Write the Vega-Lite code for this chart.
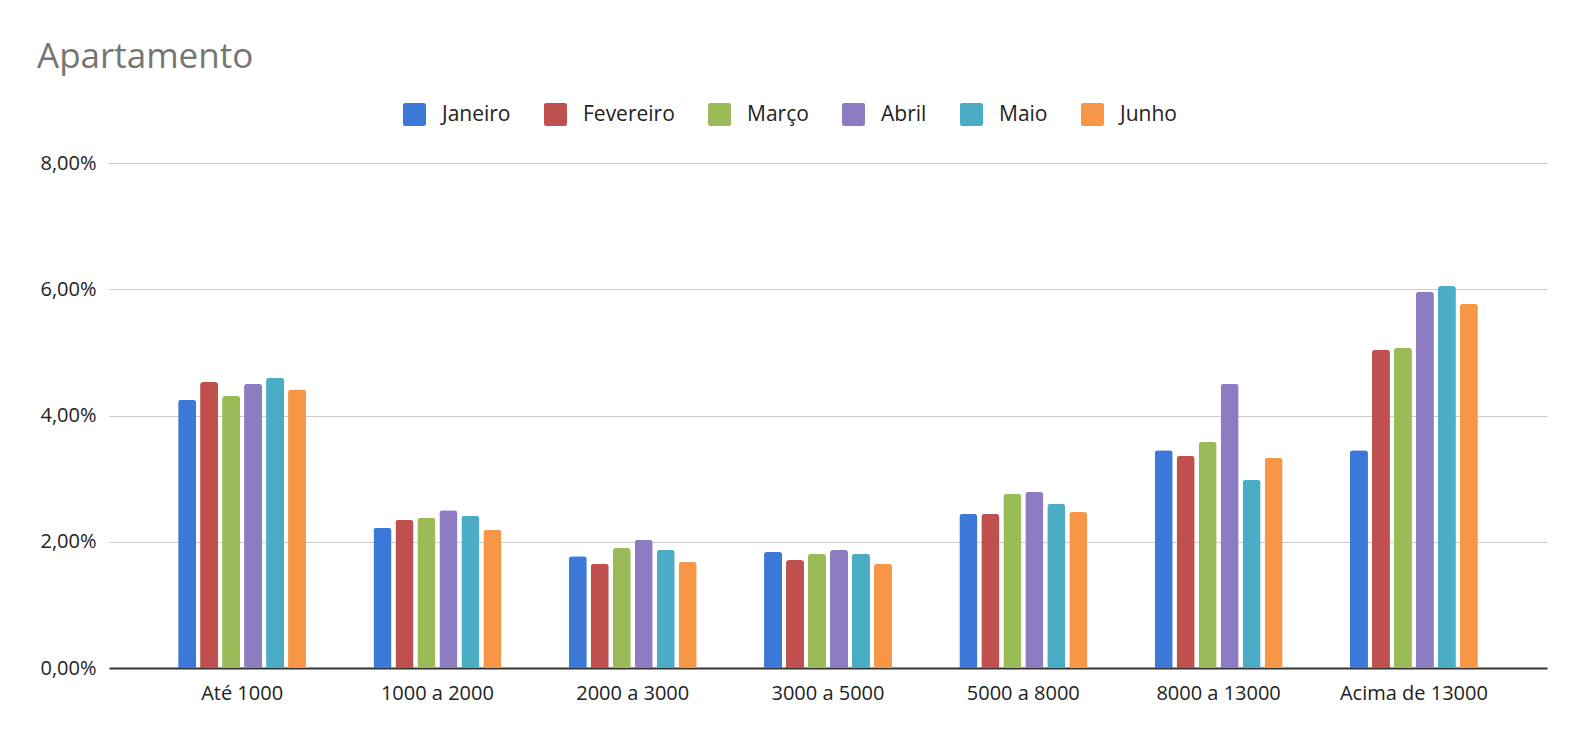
{
  "$schema": "https://vega.github.io/schema/vega-lite/v6.json",
  "width": 1438,
  "height": 505,
  "autosize": {"type": "none"},
  "padding": {"left": 109, "top": 163, "right": 37, "bottom": 74},
  "background": "white",
  "title": {
    "text": "Apartamento",
    "anchor": "start",
    "frame": "group",
    "orient": "top",
    "dx": -72,
    "offset": 28,
    "font": "Open Sans",
    "fontSize": 35,
    "fontWeight": "normal",
    "color": "#757575"
  },
  "config": {
    "view": {"stroke": null},
    "font": "Open Sans"
  },
  "data": {
    "values": [
      {"faixa": "Até 1000", "mes": "Janeiro", "valor": 0.0425},
      {"faixa": "Até 1000", "mes": "Fevereiro", "valor": 0.0453},
      {"faixa": "Até 1000", "mes": "Março", "valor": 0.0431},
      {"faixa": "Até 1000", "mes": "Abril", "valor": 0.0450},
      {"faixa": "Até 1000", "mes": "Maio", "valor": 0.0460},
      {"faixa": "Até 1000", "mes": "Junho", "valor": 0.0441},
      {"faixa": "1000 a 2000", "mes": "Janeiro", "valor": 0.0222},
      {"faixa": "1000 a 2000", "mes": "Fevereiro", "valor": 0.0235},
      {"faixa": "1000 a 2000", "mes": "Março", "valor": 0.0238},
      {"faixa": "1000 a 2000", "mes": "Abril", "valor": 0.0250},
      {"faixa": "1000 a 2000", "mes": "Maio", "valor": 0.0241},
      {"faixa": "1000 a 2000", "mes": "Junho", "valor": 0.0219},
      {"faixa": "2000 a 3000", "mes": "Janeiro", "valor": 0.0177},
      {"faixa": "2000 a 3000", "mes": "Fevereiro", "valor": 0.0165},
      {"faixa": "2000 a 3000", "mes": "Março", "valor": 0.0190},
      {"faixa": "2000 a 3000", "mes": "Abril", "valor": 0.0203},
      {"faixa": "2000 a 3000", "mes": "Maio", "valor": 0.0187},
      {"faixa": "2000 a 3000", "mes": "Junho", "valor": 0.0168},
      {"faixa": "3000 a 5000", "mes": "Janeiro", "valor": 0.0184},
      {"faixa": "3000 a 5000", "mes": "Fevereiro", "valor": 0.0171},
      {"faixa": "3000 a 5000", "mes": "Março", "valor": 0.0181},
      {"faixa": "3000 a 5000", "mes": "Abril", "valor": 0.0187},
      {"faixa": "3000 a 5000", "mes": "Maio", "valor": 0.0181},
      {"faixa": "3000 a 5000", "mes": "Junho", "valor": 0.0165},
      {"faixa": "5000 a 8000", "mes": "Janeiro", "valor": 0.0244},
      {"faixa": "5000 a 8000", "mes": "Fevereiro", "valor": 0.0244},
      {"faixa": "5000 a 8000", "mes": "Março", "valor": 0.0276},
      {"faixa": "5000 a 8000", "mes": "Abril", "valor": 0.0279},
      {"faixa": "5000 a 8000", "mes": "Maio", "valor": 0.0260},
      {"faixa": "5000 a 8000", "mes": "Junho", "valor": 0.0247},
      {"faixa": "8000 a 13000", "mes": "Janeiro", "valor": 0.0345},
      {"faixa": "8000 a 13000", "mes": "Fevereiro", "valor": 0.0336},
      {"faixa": "8000 a 13000", "mes": "Março", "valor": 0.0358},
      {"faixa": "8000 a 13000", "mes": "Abril", "valor": 0.0450},
      {"faixa": "8000 a 13000", "mes": "Maio", "valor": 0.0298},
      {"faixa": "8000 a 13000", "mes": "Junho", "valor": 0.0333},
      {"faixa": "Acima de 13000", "mes": "Janeiro", "valor": 0.0345},
      {"faixa": "Acima de 13000", "mes": "Fevereiro", "valor": 0.0504},
      {"faixa": "Acima de 13000", "mes": "Março", "valor": 0.0507},
      {"faixa": "Acima de 13000", "mes": "Abril", "valor": 0.0596},
      {"faixa": "Acima de 13000", "mes": "Maio", "valor": 0.0605},
      {"faixa": "Acima de 13000", "mes": "Junho", "valor": 0.0577}
    ]
  },
  "mark": {"type": "bar", "cornerRadiusTopLeft": 3, "cornerRadiusTopRight": 3},
  "encoding": {
    "x": {
      "field": "faixa",
      "type": "nominal",
      "sort": ["Até 1000", "1000 a 2000", "2000 a 3000", "3000 a 5000", "5000 a 8000", "8000 a 13000", "Acima de 13000"],
      "scale": {"paddingInner": 0.345, "paddingOuter": 0.354},
      "axis": {
        "title": null,
        "labelAngle": 0,
        "labelFont": "Open Sans",
        "labelFontSize": 20,
        "labelColor": "#222222",
        "labelPadding": 15,
        "ticks": false,
        "domainColor": "#333333",
        "domainWidth": 2,
        "grid": false
      }
    },
    "xOffset": {
      "field": "mes",
      "type": "nominal",
      "sort": ["Janeiro", "Fevereiro", "Março", "Abril", "Maio", "Junho"],
      "scale": {"paddingInner": 0.18, "paddingOuter": 0}
    },
    "y": {
      "field": "valor",
      "type": "quantitative",
      "scale": {"domain": [0, 0.08], "nice": false},
      "axis": {
        "title": null,
        "values": [0, 0.02, 0.04, 0.06, 0.08],
        "labelExpr": "replace(format(datum.value, '.2%'), '.', ',')",
        "labelFont": "Open Sans",
        "labelFontSize": 20,
        "labelColor": "#222222",
        "labelPadding": 13,
        "ticks": false,
        "domain": false,
        "gridColor": "#cccccc",
        "gridWidth": 1
      }
    },
    "color": {
      "field": "mes",
      "type": "nominal",
      "sort": ["Janeiro", "Fevereiro", "Março", "Abril", "Maio", "Junho"],
      "scale": {
        "domain": ["Janeiro", "Fevereiro", "Março", "Abril", "Maio", "Junho"],
        "range": ["#3c78d8", "#c0504d", "#9bbb59", "#8e7cc3", "#4bacc6", "#f79646"]
      },
      "legend": {
        "title": null,
        "orient": "none",
        "direction": "horizontal",
        "columns": 6,
        "legendX": 294,
        "legendY": -60,
        "symbolType": "M-0.8,-1H0.8Q1,-1 1,-0.8V0.8Q1,1 0.8,1H-0.8Q-1,1 -1,0.8V-0.8Q-1,-1 -0.8,-1Z",
        "symbolSize": 529,
        "symbolStrokeWidth": 0,
        "symbolOpacity": 1,
        "labelFont": "Open Sans",
        "labelFontSize": 21,
        "labelColor": "#222222",
        "labelOffset": 16,
        "columnPadding": 33
      }
    }
  }
}
